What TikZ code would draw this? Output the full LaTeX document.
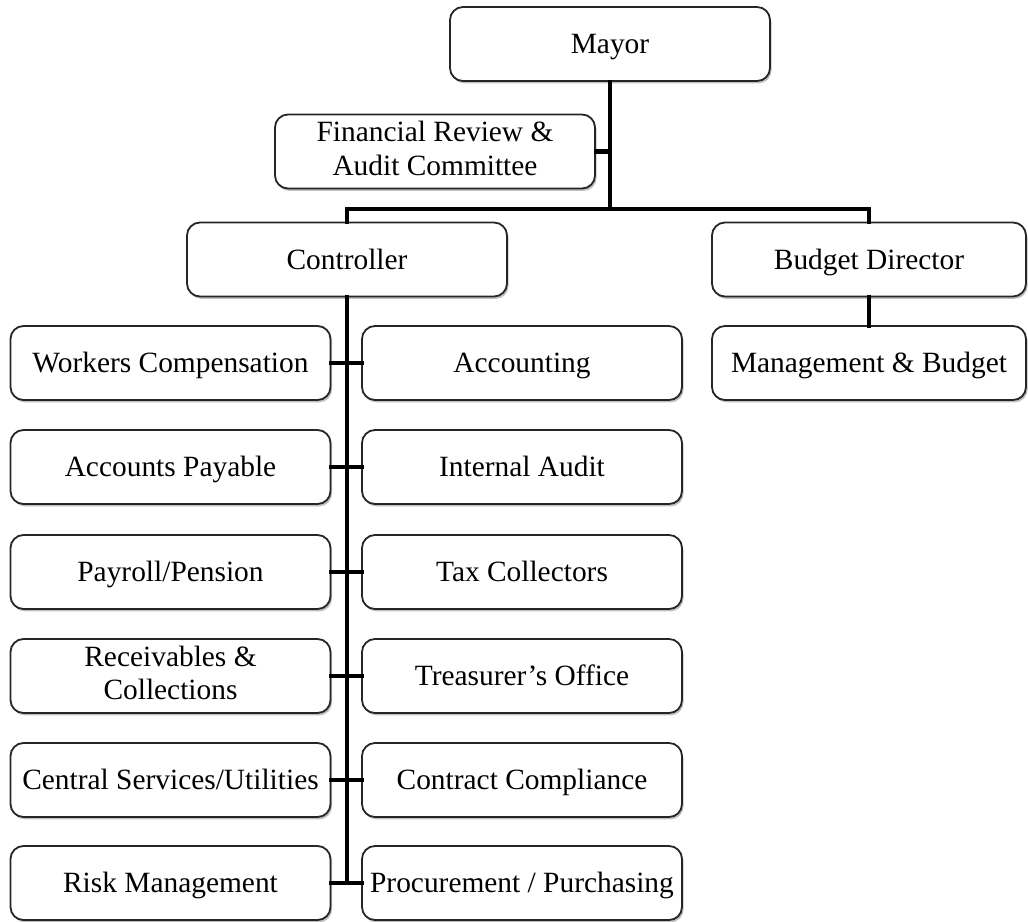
\documentclass[tikz,border=0pt]{standalone}
\usepackage{fontspec}
\setmainfont{Liberation Serif}
\usetikzlibrary{shadows}
% strut that centres capital letters in a box and covers descenders
\newcommand{\capstrut}{\rule[-3.4pt]{0pt}{16.53pt}}
\begin{document}
\begin{tikzpicture}[x=0.5pt,y=-0.5pt,
  unit/.style={draw=black!85, line width=0.9pt, rounded corners=6.5pt, fill=white,
    align=center, minimum width=160pt, minimum height=37pt,
    inner xsep=2pt, inner ysep=1pt,
    font=\fontsize{14.7}{16.8}\selectfont,
    execute at begin node=\capstrut, execute at end node=\capstrut,
    drop shadow={shadow xshift=0.8pt, shadow yshift=-1.2pt, opacity=0.25, fill=black}},
  link/.style={line width=2.4pt, line cap=rect}]
\useasboundingbox (0,0) rectangle (1028,921);

% top level
\node[unit] (mayor) at (610,44) {Mayor};
\node[unit] (frac) at (435,151.5) {Financial Review \&\\Audit Committee};
\node[unit] (ctrl) at (347,259.5) {Controller};
\node[unit, minimum width=157pt] (bdir) at (869,259.5) {Budget Director};
\node[unit, minimum width=157pt] (mgmt) at (869,363) {Management \& Budget};

% departments under the Controller
\foreach \name/\y/\lt/\rt in {
  r1/363/{Workers Compensation}/{Accounting},
  r2/467/{Accounts Payable}/{Internal Audit},
  r3/572/{Payroll/Pension}/{Tax Collectors},
  r4/676/{Receivables \&\\Collections}/{Treasurer’s Office},
  r5/780/{Central Services/Utilities}/{Contract Compliance},
  r6/883/{Risk Management}/{Procurement / Purchasing}}{
  \node[unit] (\name l) at (170.5,\y) {\lt};
  \node[unit] (\name r) at (522,\y) {\rt};
}

% connectors
\coordinate (bus) at (mayor.south |- 0,209);
\coordinate (trunkend) at (ctrl.south |- r6l.east);
\draw[link] (mayor.south) -- (bus);
\draw[link] (frac.east) -- (frac.east -| mayor.south);
\draw[link] (ctrl.north) -- (ctrl.north |- bus) -- (bdir.north |- bus) -- (bdir.north);
\draw[link] (bdir.south) -- (mgmt.north);
\draw[link] (ctrl.south) -- (trunkend);
\foreach \name in {r1,r2,r3,r4,r5,r6}
  \draw[link] (\name l.east) -- (\name r.west);
\end{tikzpicture}
\end{document}
